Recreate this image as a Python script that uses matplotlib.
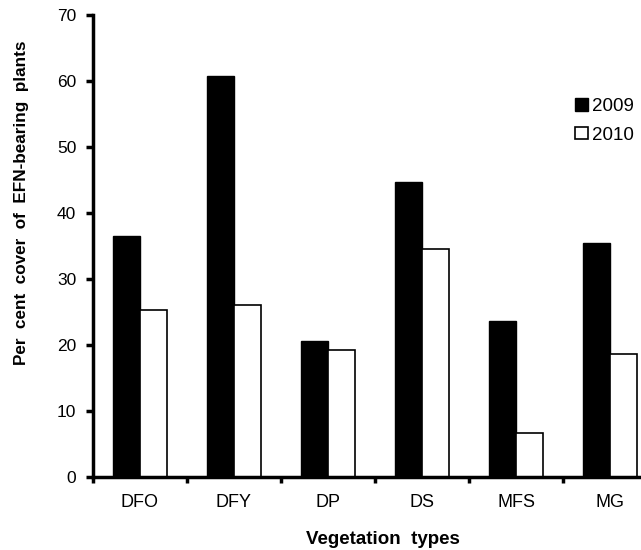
import numpy as np
import matplotlib
matplotlib.use('Agg')
import matplotlib.pyplot as plt

plt.rcParams['font.family'] = ['Liberation Sans', 'DejaVu Sans']

categories = ['DFO', 'DFY', 'DP', 'DS', 'MFS', 'MG']
cover_2009 = [36.5, 60.7, 20.6, 44.7, 23.6, 35.4]
cover_2010 = [25.3, 26.1, 19.2, 34.5, 6.6, 18.7]

fig = plt.figure(figsize=(6.41, 5.5), dpi=100)
# axes deliberately run past the right edge, as in the original crop
ax = fig.add_axes([0.145, 0.1327, 0.880, 0.84])

x = np.arange(len(categories)) + 0.5
w = 0.29
ax.bar(x - w / 2, cover_2009, w, color='black', edgecolor='black', linewidth=1, label='2009')
ax.bar(x + w / 2, cover_2010, w, color='white', edgecolor='black', linewidth=1.2, label='2010')

ax.set_xlim(0, len(categories))
ax.set_ylim(0, 70)
ax.set_yticks(range(0, 71, 10))
ax.set_xticks(x)
ax.set_xticklabels(categories)
ax.set_xticks(np.arange(len(categories) + 1), minor=True)

for side in ['top', 'right']:
    ax.spines[side].set_visible(False)
for side in ['left', 'bottom']:
    ax.spines[side].set_linewidth(2.5)

ax.tick_params(axis='y', direction='out', length=5, width=2.5, labelsize=12.5, pad=7)
ax.tick_params(axis='x', which='major', length=0, labelsize=13, pad=12)
ax.tick_params(axis='x', which='minor', direction='out', length=4, width=2.5)

fig.text(22 / 641, 1 - 203 / 550, 'Per  cent  cover  of  EFN-bearing  plants',
         rotation=90, ha='center', va='center', fontsize=12.3, fontweight='bold')
fig.text(383 / 641, 1 - 540 / 550, 'Vegetation  types',
         ha='center', va='center', fontsize=13.5, fontweight='bold')

fig.legend(loc='upper left', bbox_to_anchor=(0.886, 0.835), frameon=False,
           fontsize=13.5, handlelength=0.65, handleheight=0.65, handletextpad=0.25,
           labelspacing=0.6, borderaxespad=0)

fig.savefig('out.png', dpi=100)
